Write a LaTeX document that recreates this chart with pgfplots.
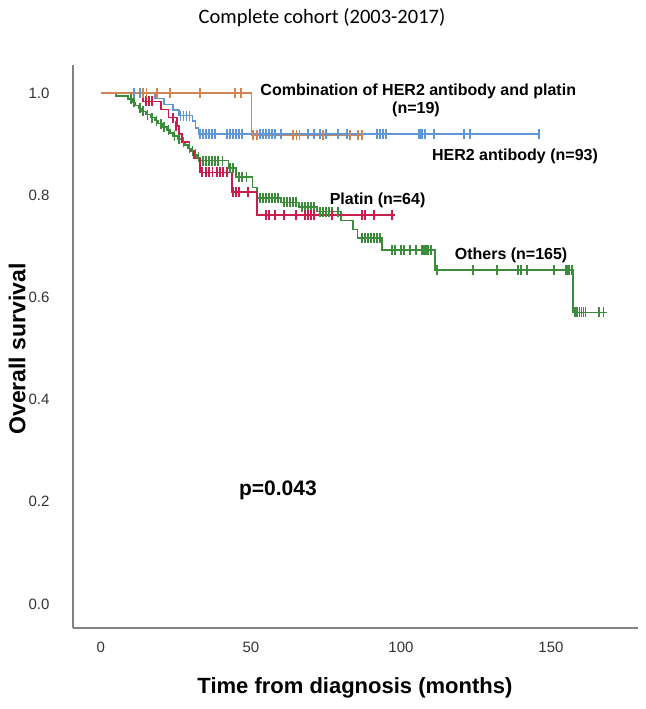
\documentclass[border=0pt]{standalone}
\usepackage{pgfplots}
\pgfplotsset{compat=1.18}
\usepackage{fontspec}
\setmainfont{Liberation Sans}
\newfontfamily\titlefont{Carlito}
\definecolor{cBlue}{RGB}{95,150,215}
\definecolor{cOrange}{RGB}{208,132,82}
\definecolor{cRed}{RGB}{200,30,75}
\definecolor{cGreen}{RGB}{60,140,60}
\definecolor{axgray}{RGB}{130,130,130}
\begin{document}
\begin{tikzpicture}[x=1pt,y=1pt]
\path[use as bounding box] (0,0) rectangle (645,709);
\node[font=\titlefont\fontsize{20.5}{24}\selectfont] at (322,691) {Complete cohort (2003-2017)};
\begin{axis}[
  at={(73pt,81pt)}, anchor=south west,
  scale only axis, width=565pt, height=563pt,
  xmin=-9.3, xmax=179, ymin=-0.047, ymax=1.055,
  axis x line*=bottom, axis y line*=left,
  axis line style={axgray, line width=1.3pt, -},
  xtick={0,50,100,150}, ytick={0,0.2,0.4,0.6,0.8,1.0},
  major tick length=0pt,
  tick label style={font=\fontsize{15}{17}\selectfont, text=black!80},
  /pgf/number format/assume math mode=true,
  yticklabel style={/pgf/number format/fixed, /pgf/number format/fixed zerofill, /pgf/number format/precision=1, xshift=-20pt},
  xticklabel style={yshift=-10pt},
  xlabel={Time from diagnosis (months)},
  ylabel={Overall survival},
  xlabel style={font=\bfseries\fontsize{22}{26}\selectfont, at={(axis description cs:0.499,-0.1066)}, anchor=center},
  ylabel style={font=\bfseries\fontsize{23}{27}\selectfont, at={(axis description cs:-0.099,0.4956)}, anchor=center, rotate=0},
  clip=false,
  every axis plot/.append style={line width=1.5pt},
  cmark/.style={only marks, mark=|, mark size=5pt, mark options={line width=1.3pt}},
]
% Others
\addplot[cGreen, const plot] coordinates {
(0,1) (5,0.994) (9,0.988) (10.5,0.982) (11.5,0.976) (12.5,0.970) (13.5,0.964) (15,0.958) (16.5,0.952) (18,0.946) (19,0.940) (20.5,0.934) (22,0.928) (23,0.922) (24,0.916) (25.5,0.910) (27,0.904) (28,0.898) (29,0.892) (30,0.886) (31,0.880) (32,0.874) (33,0.868) (42.5,0.853) (45,0.836) (50.5,0.815) (52,0.795) (60,0.786) (66,0.777) (72,0.768) (80,0.751) (84,0.733) (85.5,0.716) (93.6,0.693) (111.3,0.654) (157.3,0.571) (168.7,0.571)};
\addplot[cGreen, cmark] coordinates {
(10,0.988) (11,0.982) (13,0.970) (14,0.964) (15.5,0.958) (17,0.952) (18.5,0.946) (20,0.940) (21,0.934) (22.5,0.928) (24.5,0.916) (26,0.910) (27.5,0.904) (29.5,0.892) (30.5,0.886) (31.5,0.880) (32.5,0.874)
(34,0.868) (35,0.868) (36,0.868) (37,0.868) (38,0.868) (39,0.868) (40.5,0.868) (43,0.853) (44,0.853) (46,0.836) (47,0.836) (48.5,0.836)
(53,0.795) (54,0.795) (55,0.795) (56,0.795) (57,0.795) (58,0.795) (59,0.795) (61,0.786) (62,0.786) (63,0.786) (64,0.786) (65,0.786)
(67,0.777) (68,0.777) (69,0.777) (70,0.777) (71,0.777) (73,0.768) (74,0.768) (75,0.768) (76,0.768) (77,0.768) (79,0.768)
(87,0.716) (88,0.716) (89,0.716) (90,0.716) (91,0.716) (92,0.716) (93,0.716)
(97,0.693) (98,0.693) (100,0.693) (101,0.693) (103,0.693) (105,0.693) (107,0.693) (107.5,0.693) (108,0.693) (108.6,0.693) (109,0.693) (110,0.693)
(112,0.654) (124,0.654) (132,0.654) (139,0.654) (140,0.654) (142,0.654) (151,0.654) (155,0.654) (155.5,0.654) (156,0.654) (157,0.654)
(158,0.571) (158.7,0.571) (159.4,0.571) (160.1,0.571) (160.8,0.571) (161.5,0.571) (166,0.571) (167.5,0.571)};
% Platin
\addplot[cRed, const plot] coordinates {
(0,1) (14,0.984) (20,0.968) (22.5,0.952) (25.3,0.936) (26,0.920) (27,0.904) (29.5,0.888) (31,0.872) (33,0.845) (43.7,0.806) (52,0.761) (98,0.761)};
\addplot[cRed, cmark] coordinates {
(15,0.984) (16,0.984) (17,0.984) (24,0.952) (25,0.936)
(33.7,0.845) (35,0.845) (36,0.845) (37.3,0.845) (38.7,0.845) (39.7,0.845) (40.7,0.845) (42,0.845)
(44,0.806) (45,0.806) (46,0.806) (49,0.806)
(55,0.761) (56,0.761) (58,0.761) (61,0.761) (65,0.761) (68,0.761) (69,0.761) (70,0.761) (71,0.761) (77,0.761) (87,0.761) (88,0.761) (91,0.761) (97,0.761)};
% HER2 antibody
\addplot[cBlue, const plot] coordinates {
(0,1) (18,0.989) (21,0.978) (24,0.967) (26,0.956) (30.5,0.945) (31.5,0.932) (32.5,0.920) (146,0.920)};
\addplot[cBlue, cmark] coordinates {
(11,1) (13,1) (26.5,0.956) (27.5,0.956) (28.5,0.956) (29.5,0.956)
(33,0.92) (34,0.92) (35,0.92) (36,0.92) (37,0.92) (38,0.92) (42,0.92) (43,0.92) (44,0.92) (45,0.92) (46,0.92) (47,0.92)
(53,0.92) (54,0.92) (55,0.92) (56,0.92) (57,0.92) (58,0.92) (60,0.92) (69,0.92) (71,0.92) (73,0.92) (75,0.92) (79,0.92) (82,0.92)
(92,0.92) (93,0.92) (94,0.92) (95,0.92) (106,0.92) (106.5,0.92) (107,0.92) (108,0.92) (111,0.92) (121,0.92) (123,0.92) (146,0.92)};
% Combination
\addplot[cOrange, const plot] coordinates {(0,1) (50.2,0.917) (87,0.917)};
\addplot[cOrange, cmark] coordinates {
(14,1) (15.3,1) (18.7,1) (23,1) (33,1) (44.7,1) (46.7,1)
(50.7,0.917) (52,0.917) (64,0.917) (65.3,0.917) (66.3,0.917) (74,0.917) (83,0.917) (85.7,0.917) (87,0.917)};
% annotations
\node[anchor=west, font=\bfseries\fontsize{16}{18}\selectfont] at (axis cs:52,1.004) {Combination of HER2 antibody and platin};
\node[font=\bfseries\fontsize{16}{18}\selectfont] at (axis cs:105,0.969) {(n=19)};
\node[font=\bfseries\fontsize{16}{18}\selectfont] at (axis cs:138,0.877) {HER2 antibody (n=93)};
\node[font=\bfseries\fontsize{16}{18}\selectfont] at (axis cs:92.2,0.79) {Platin (n=64)};
\node[font=\bfseries\fontsize{16}{18}\selectfont] at (axis cs:136.7,0.683) {Others (n=165)};
\node[font=\bfseries\fontsize{21}{24}\selectfont] at (axis cs:59,0.223) {p=0.043};
\end{axis}
\end{tikzpicture}
\end{document}
